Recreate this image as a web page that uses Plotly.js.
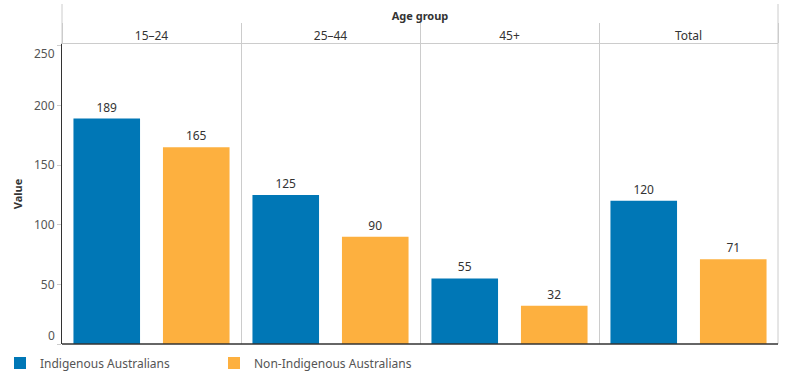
<!DOCTYPE html>
<html>
<head>
<meta charset="utf-8">
<script src="https://cdn.plot.ly/plotly-3.0.1.min.js"></script>
<style>html,body{margin:0;padding:0;background:#fff;}#chart{width:786px;height:381px;}</style>
</head>
<body>
<div id="chart"></div>
<script>
const categories = ['15–24', '25–44', '45+', 'Total'];
const indigenous = [189, 125, 55, 120];
const nonIndigenous = [165, 90, 32, 71];
const seriesNames = ['Indigenous Australians', 'Non-Indigenous Australians'];
const yTickVals = [0, 50, 100, 150, 200, 250];
const yTickText = ['', '50', '100', '150', '200', ''];
const edgeTickVals = [0, 250];
const edgeTickShift = [9, -8];

const FONT = 'Noto Sans, Arial, sans-serif';
const blue = '#0077B6';
const orange = '#FDB03F';

const traces = [
  {type: 'bar', name: seriesNames[0], x: categories, y: indigenous, marker: {color: blue},
   text: indigenous.map(String), textposition: 'outside', cliponaxis: false,
   textfont: {family: FONT, size: 12, color: '#333'}, hoverinfo: 'x+y+name'},
  {type: 'bar', name: seriesNames[1], x: categories, y: nonIndigenous, marker: {color: orange},
   text: nonIndigenous.map(String), textposition: 'outside', cliponaxis: false,
   textfont: {family: FONT, size: 12, color: '#333'}, hoverinfo: 'x+y+name'}
];

const tickFont = {family: FONT, size: 12, color: '#555'};

const annotations = edgeTickVals.map((v, i) => ({
  xref: 'paper', yref: 'y', x: 0, y: v, xanchor: 'right', yanchor: 'middle',
  xshift: -5, yshift: edgeTickShift[i], showarrow: false, text: String(v), font: tickFont
}));

const layout = {
  width: 786, height: 381,
  margin: {l: 62, r: 8, t: 44, b: 37},
  paper_bgcolor: '#fff', plot_bgcolor: '#fff',
  barmode: 'group', bargap: 0, bargroupgap: 0.256,
  font: {family: FONT, color: '#333'},
  showlegend: true,
  legend: {orientation: 'h', xref: 'container', yref: 'container', x: 0, y: 0.047,
    xanchor: 'left', yanchor: 'middle', entrywidth: 169, entrywidthmode: 'pixels',
    font: {family: FONT, size: 12, color: '#555'}, traceorder: 'normal'},
  xaxis: {side: 'top', type: 'category', tickson: 'boundaries', showgrid: true, gridcolor: '#ccc', gridwidth: 1,
    ticks: 'outside', ticklen: 20, tickcolor: '#ccc', ticklabelstandoff: -2,
    showline: true, linecolor: '#ccc', linewidth: 1, zeroline: false, fixedrange: true,
    tickfont: {family: FONT, size: 12, color: '#333'},
    title: {text: '<b>Age group</b>', font: {family: FONT, size: 11, color: '#333'}, standoff: 4}},
  yaxis: {range: [0, 251.5], fixedrange: true, ticks: 'outside', ticklen: 4, tickcolor: '#ccc',
    tickvals: yTickVals, ticktext: yTickText, tickfont: tickFont,
    showgrid: false, zeroline: false, showline: true, linecolor: '#333', linewidth: 1,
    title: {text: '<b>Value</b>', font: {family: FONT, size: 11, color: '#333'}, standoff: 9}},
  annotations: annotations,
  shapes: [
    {type: 'line', xref: 'paper', yref: 'paper', x0: 0, x1: 0, y0: 1, y1: 1.1333, line: {color: '#ccc', width: 1}},
    {type: 'line', xref: 'paper', yref: 'paper', x0: 1, x1: 1, y0: 0, y1: 1.1333, line: {color: '#ccc', width: 1}},
    {type: 'line', xref: 'paper', yref: 'paper', x0: 0, x1: 1, y0: 0, y1: 0, line: {color: '#333', width: 1.5}}
  ]
};

Plotly.newPlot('chart', traces, layout, {displayModeBar: false, staticPlot: true});
</script>
</body>
</html>
